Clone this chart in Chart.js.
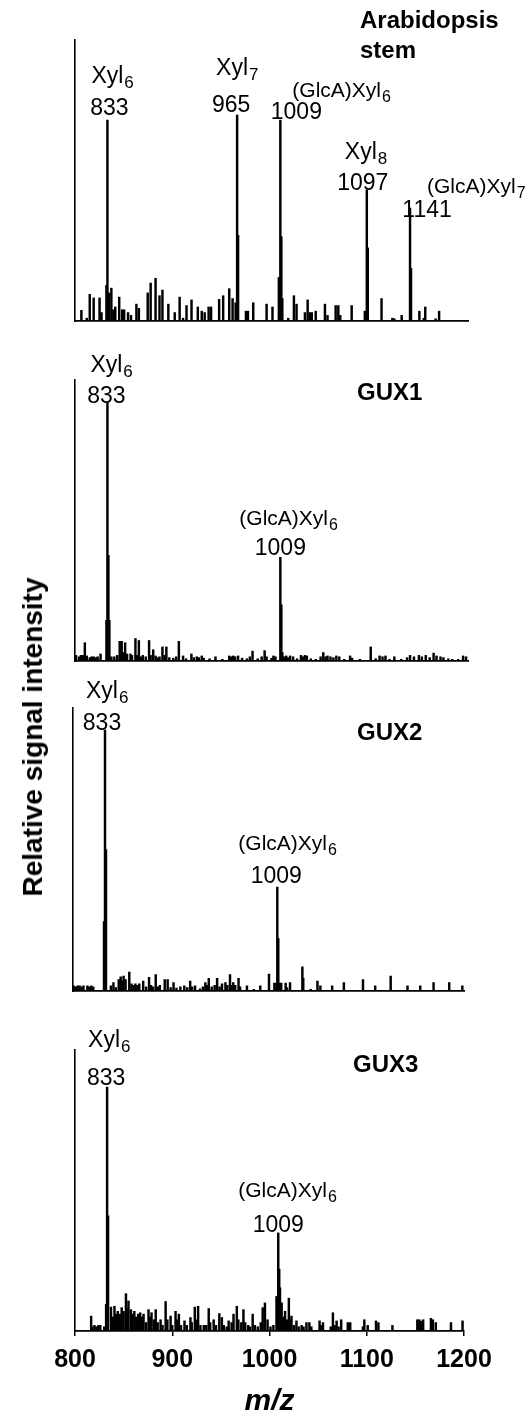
<!DOCTYPE html>
<html><head><meta charset="utf-8">
<script src="https://cdn.jsdelivr.net/npm/chart.js@4.4.1/dist/chart.umd.min.js"></script>
<style>
html,body{margin:0;padding:0;background:#fff;width:528px;height:1417px;overflow:hidden;position:relative}
canvas{position:absolute;left:0}
#ytitle{position:absolute;left:33px;top:737px;transform:translate(-50%,-50%) rotate(-90deg);font:bold 28px "Liberation Sans",Arial,sans-serif;white-space:nowrap;color:#000;line-height:1}
</style></head><body>
<canvas id="c1" width="528" height="330" style="top:0px"></canvas>
<canvas id="c2" width="528" height="340" style="top:330px"></canvas>
<canvas id="c3" width="528" height="330" style="top:670px"></canvas>
<canvas id="c4" width="528" height="417" style="top:1000px"></canvas>
<div id="ytitle">Relative signal intensity</div>
<script>
// ---------- DATA ----------
const mzRange = [800, 1200];
const xTicks = [800, 900, 1000, 1100, 1200];
const xTitle = 'm/z';
const yTitle = 'Relative signal intensity';
const panelTitles = [['Arabidopsis', 'stem'], ['GUX1'], ['GUX2'], ['GUX3']];

// [m/z, relative intensity]
const stemPeaks = [[806.5,0.038],[812,0.01],[815,0.095],[819,0.082],[825,0.082],[827,0.03],[832,0.127],[833,0.715],[834.5,0.1],[837,0.117],[839,0.04],[841,0.05],[845,0.085],[848,0.04],[850,0.04],[854,0.03],[857,0.02],[862.5,0.06],[865,0.045],[874,0.1],[877,0.135],[882,0.152],[886,0.09],[889,0.11],[895,0.06],[901.5,0.03],[906.5,0.085],[910,0.01],[913.5,0.055],[918.6,0.075],[925,0.05],[929,0.035],[932,0.03],[936,0.05],[938.5,0.05],[946.7,0.077],[950.8,0.09],[957,0.115],[960.4,0.08],[963.5,0.065],[965,0.733],[966,0.305],[974,0.035],[976,0.035],[981.4,0.065],[995,0.06],[1001,0.05],[1007.5,0.155],[1009,0.715],[1010,0.3],[1011,0.08],[1017,0.01],[1022.8,0.09],[1025.5,0.06],[1034,0.03],[1036.8,0.075],[1039,0.03],[1041,0.03],[1045,0.035],[1054.4,0.06],[1057,0.02],[1065.3,0.055],[1068,0.055],[1070,0.02],[1081.6,0.055],[1095,0.035],[1097,0.466],[1098,0.26],[1112,0.08],[1123,0.01],[1125,0.008],[1132.5,0.02],[1141,0.402],[1142,0.187],[1150.5,0.035],[1155,0.01],[1156.5,0.05],[1167,0.008],[1170.6,0.035]];

const gux1Peaks = [[801,0.02],[804,0.015],[806,0.02],[808,0.02],[810,0.065],[812,0.018],[815,0.012],[817,0.015],[819,0.015],[821,0.012],[823,0.015],[826,0.025],[832,0.145],[833,0.918],[834,0.376],[835,0.145],[837,0.015],[840,0.015],[843,0.02],[845.5,0.07],[847.5,0.07],[849,0.03],[851,0.065],[853,0.025],[856.5,0.025],[858,0.02],[861.5,0.08],[863,0.02],[865,0.073],[867,0.015],[869,0.02],[872,0.015],[875.4,0.073],[877,0.02],[879.6,0.04],[882,0.018],[884,0.012],[886,0.015],[889,0.05],[891,0.02],[893,0.05],[896,0.012],[900,0.01],[903,0.015],[905.7,0.07],[910,0.018],[913,0.008],[918.5,0.025],[921,0.012],[924,0.015],[926,0.012],[929,0.018],[931,0.01],[937,0.008],[943,0.015],[950,0.006],[957,0.018],[959,0.015],[961,0.018],[963,0.015],[966,0.018],[970,0.01],[975,0.008],[978,0.015],[980.7,0.035],[986,0.008],[990,0.015],[993,0.037],[995,0.015],[1000,0.01],[1002,0.018],[1004,0.015],[1009,0.369],[1010,0.2],[1011,0.03],[1013,0.015],[1015,0.018],[1017,0.012],[1019,0.018],[1022,0.015],[1026,0.008],[1030,0.02],[1032,0.015],[1034,0.02],[1036,0.018],[1040,0.008],[1045,0.006],[1050,0.015],[1052.7,0.03],[1055,0.015],[1057,0.018],[1060,0.015],[1063,0.012],[1066,0.018],[1069,0.015],[1074,0.006],[1080,0.018],[1082,0.01],[1090,0.006],[1101,0.05],[1106,0.008],[1110,0.018],[1113,0.015],[1116,0.018],[1120,0.006],[1125,0.015],[1132,0.006],[1138,0.012],[1141,0.02],[1145,0.015],[1150,0.02],[1153,0.015],[1157,0.02],[1161,0.012],[1165,0.028],[1168,0.018],[1172,0.015],[1175,0.012],[1180,0.008],[1184,0.006],[1190,0.006],[1195,0.018],[1198,0.015]];

const gux2Peaks = [[801,0.018],[803,0.015],[805,0.018],[807,0.018],[809,0.015],[811,0.018],[815,0.018],[817,0.015],[819,0.018],[821,0.015],[832,0.245],[833,0.922],[834,0.5],[839,0.018],[841.6,0.03],[844,0.012],[847,0.04],[849,0.05],[850.5,0.035],[852,0.053],[854,0.04],[857.8,0.067],[860,0.025],[862,0.02],[864,0.025],[866,0.02],[868,0.025],[872,0.035],[875,0.015],[878,0.048],[880,0.02],[882,0.015],[884.8,0.058],[887,0.015],[889,0.02],[894,0.04],[897,0.04],[900,0.012],[903,0.03],[906,0.01],[910,0.015],[914,0.018],[917,0.012],[920,0.035],[922,0.015],[925,0.018],[930,0.008],[933,0.015],[935.5,0.03],[937,0.02],[939,0.045],[942,0.015],[945,0.02],[947.5,0.045],[950,0.015],[952.5,0.025],[956,0.03],[958,0.02],[960.7,0.058],[962,0.02],[964,0.03],[966,0.02],[969.4,0.045],[971,0.015],[978,0.018],[985,0.006],[991.6,0.018],[1000.5,0.06],[1006,0.028],[1008,0.028],[1009,0.367],[1010,0.185],[1011,0.028],[1013,0.028],[1017.5,0.028],[1019,0.012],[1022,0.03],[1034.6,0.085],[1035.5,0.045],[1043,0.006],[1050,0.035],[1053,0.018],[1065,0.018],[1077,0.03],[1096.5,0.04],[1109,0.018],[1124.8,0.053],[1142,0.018],[1155,0.018],[1168.6,0.03],[1184.6,0.03],[1198,0.018]];

const gux3Peaks = [[816.6,0.053],[818,0.015],[820,0.02],[822,0.015],[824,0.02],[826,0.02],[830,0.015],[832,0.095],[833,0.868],[834,0.41],[837,0.085],[839,0.05],[840.6,0.088],[842,0.06],[844,0.07],[846,0.06],[848,0.083],[850,0.07],[852.4,0.133],[853.5,0.08],[855,0.107],[857.5,0.076],[859,0.06],[861,0.07],[863,0.05],[865,0.06],[867,0.065],[869,0.05],[870.5,0.06],[873,0.03],[875.6,0.076],[877,0.05],[878.7,0.065],[881,0.04],[883,0.076],[885,0.03],[888,0.04],[890,0.02],[893.2,0.105],[895,0.04],[898.3,0.053],[900,0.02],[903.4,0.07],[905,0.04],[906.8,0.06],[909,0.02],[912.6,0.036],[915,0.02],[918.7,0.048],[920,0.03],[923.2,0.085],[925,0.04],[926.6,0.088],[929,0.02],[932.4,0.02],[935,0.02],[937.5,0.08],[939,0.03],[942.6,0.04],[945,0.02],[948.4,0.062],[951,0.048],[953,0.02],[956,0.015],[958,0.036],[961,0.03],[963,0.06],[966.4,0.088],[968,0.04],[971,0.03],[973.2,0.076],[975,0.03],[978,0.02],[980,0.015],[982.7,0.06],[985,0.02],[988,0.015],[991,0.03],[993,0.083],[995.3,0.1],[998,0.04],[1001,0.015],[1004,0.02],[1007.2,0.123],[1009,0.349],[1010,0.22],[1010.8,0.154],[1012.5,0.1],[1014,0.05],[1016,0.07],[1018,0.04],[1019.9,0.117],[1021,0.04],[1022.6,0.053],[1025,0.02],[1027.7,0.036],[1030,0.015],[1033,0.02],[1035,0.015],[1038,0.03],[1041,0.03],[1043,0.015],[1051.5,0.036],[1053,0.02],[1055,0.03],[1063,0.015],[1065.2,0.065],[1067,0.02],[1069,0.036],[1071,0.015],[1073.7,0.04],[1080.5,0.03],[1083,0.03],[1096,0.015],[1097.5,0.04],[1101,0.02],[1109.5,0.036],[1112,0.03],[1126.4,0.02],[1152,0.04],[1154,0.04],[1156,0.035],[1158,0.04],[1166,0.045],[1168,0.04],[1171,0.03],[1186.6,0.03],[1198.5,0.036]];

// peak annotations: name, subscript, m/z
const stemLabelNames = ['Xyl', 'Xyl', '(GlcA)Xyl', 'Xyl', '(GlcA)Xyl'];
const stemLabelSubs  = ['6', '7', '6', '8', '7'];
const stemLabelMz    = [833, 965, 1009, 1097, 1141];
const guxLabelNames  = ['Xyl', '(GlcA)Xyl'];
const guxLabelSubs   = ['6', '6'];
const guxLabelMz     = [833, 1009];

// ---------- LAYOUT / STYLE ----------
const FONT = '"Liberation Sans", Arial, Helvetica, sans-serif';
const layouts = [
  { canvas:'c1', peaks: stemPeaks, names: stemLabelNames, subs: stemLabelSubs, mz: stemLabelMz,
    padding:{top:40,bottom:9,left:75,right:60},
    off:[{nx:-16,ny:-37,cx:2,cy:-5},{nx:-21,ny:-40,cx:-6,cy:-3},{nx:12,ny:-23,cx:16,cy:-1},{nx:-22,ny:-31,cx:-4,cy:0},{nx:17,ny:-15,cx:17,cy:9}],
    title:{x:360,y:28,dy:30} },
  { canvas:'c2', peaks: gux1Peaks, names: guxLabelNames, subs: guxLabelSubs, mz: guxLabelMz,
    padding:{top:50,bottom:9,left:75,right:60},
    off:[{nx:-17,ny:-31,cx:-1,cy:0},{nx:-41,ny:-32,cx:0,cy:-2}],
    title:{x:357,y:70,dy:30} },
  { canvas:'c3', peaks: gux2Peaks, names: guxLabelNames, subs: guxLabelSubs, mz: guxLabelMz,
    padding:{top:38,bottom:9,left:72.7,right:63.7},
    off:[{nx:-19,ny:-32,cx:-3,cy:0},{nx:-39,ny:-37,cx:-1,cy:-4}],
    title:{x:357,y:70,dy:30} },
  { canvas:'c4', peaks: gux3Peaks, names: guxLabelNames, subs: guxLabelSubs, mz: guxLabelMz,
    padding:{top:50,bottom:0,left:75,right:64},
    off:[{nx:-19,ny:-40,cx:-1,cy:-2},{nx:-40,ny:-36,cx:0,cy:-1}],
    title:{x:353,y:72,dy:30}, bottomAxis:true }
];

const annotatePlugin = {
  id: 'peakLabels',
  afterDatasetsDraw(chart, args, o) {
    const ctx = chart.ctx, xs = chart.scales.x, ys = chart.scales.y;
    ctx.save();
    ctx.fillStyle = '#000';
    o.mz.forEach((m, i) => {
      const top = Math.max(...o.peaks.filter(p => Math.abs(p[0] - m) < 0.5).map(p => p[1]));
      const px = xs.getPixelForValue(m), py = ys.getPixelForValue(top);
      const off = o.off[i];
      const big = o.names[i] === 'Xyl';
      const size = big ? 23 : 21, subSize = big ? 17 : 16;
      ctx.textAlign = 'left'; ctx.textBaseline = 'alphabetic';
      ctx.font = `${size}px ${FONT}`;
      ctx.fillText(o.names[i], px + off.nx, py + off.ny);
      const w = ctx.measureText(o.names[i]).width;
      ctx.font = `${subSize}px ${FONT}`;
      ctx.fillText(o.subs[i], px + off.nx + w + 1, py + off.ny + 5);
      ctx.font = `23px ${FONT}`;
      ctx.textAlign = 'center';
      ctx.fillText(String(m), px + off.cx, py + off.cy);
    });
    ctx.font = `bold 24px ${FONT}`;
    ctx.textAlign = 'left';
    o.titleLines.forEach((t, k) => ctx.fillText(t, o.title.x, o.title.y + k * o.title.dy));
    ctx.restore();
  }
};

layouts.forEach((L, idx) => {
  const xScale = {
    type: 'linear', min: mzRange[0], max: mzRange[1], offset: false,
    border: { display: true, color: '#000', width: 1.7 },
    grid: { display: false, drawTicks: false },
    ticks: { display: false },
    afterFit: s => { s.height = 0; }
  };
  if (L.bottomAxis) {
    Object.assign(xScale, {
      grid: { display: true, drawOnChartArea: false, drawTicks: true, tickLength: 5, color: '#000', lineWidth: 1.5, offset: false },
      ticks: { display: true, autoSkip: false, maxRotation: 0, padding: 9, color: '#000',
               font: { family: FONT, size: 25, weight: 'bold' }, callback: v => String(v) },
      afterBuildTicks: s => { s.ticks = xTicks.map(v => ({ value: v })); },
      title: { display: true, text: xTitle, color: '#000', padding: 0,
               font: { family: FONT, size: 30, weight: 'bold', style: 'italic', lineHeight: 1 } },
      afterFit: s => { s.height = 86; }
    });
  }
  new Chart(document.getElementById(L.canvas), {
    type: 'bar',
    data: { datasets: [{
      data: L.peaks.map(p => ({ x: p[0], y: p[1] })),
      backgroundColor: '#000', borderWidth: 0, barThickness: 1.8
    }] },
    options: {
      responsive: false, animation: false, events: [],
      layout: { padding: L.padding },
      plugins: {
        legend: { display: false }, tooltip: { enabled: false },
        peakLabels: { peaks: L.peaks, names: L.names, subs: L.subs, mz: L.mz, off: L.off,
                      titleLines: panelTitles[idx], title: L.title }
      },
      scales: {
        x: xScale,
        y: { min: 0, max: 1, border: { display: true, color: '#000', width: 1.6 },
             grid: { display: false, drawTicks: false }, ticks: { display: false },
             afterFit: s => { s.width = 0; } }
      }
    },
    plugins: [annotatePlugin]
  });
});
document.getElementById('ytitle').textContent = yTitle;
</script>
</body></html>
